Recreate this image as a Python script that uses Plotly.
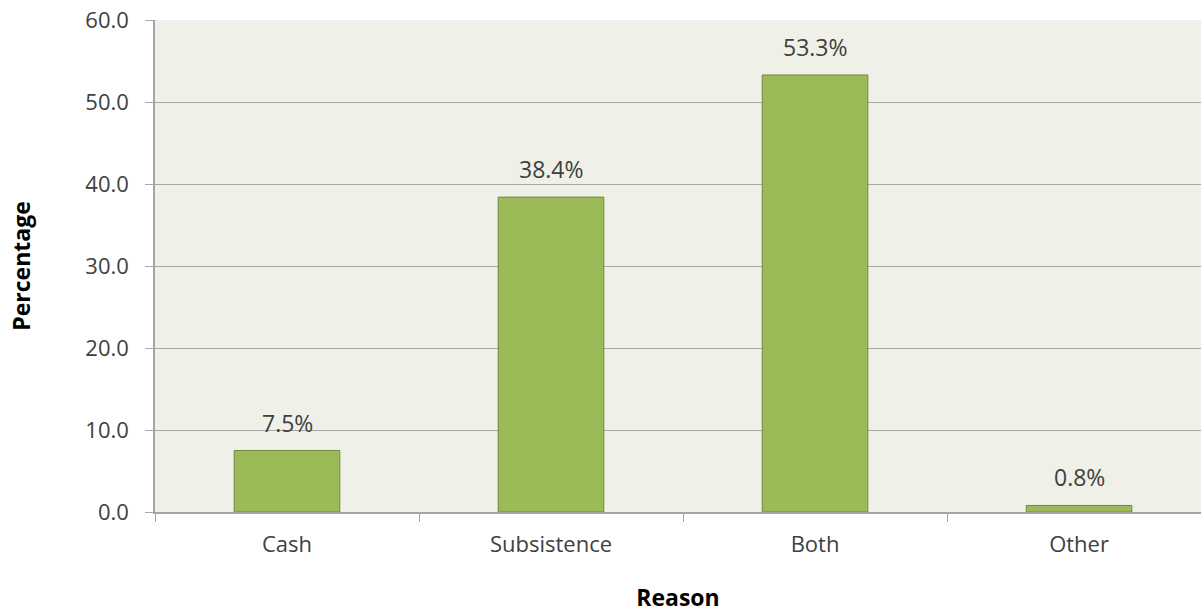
import plotly.graph_objects as go

categories = ["Cash", "Subsistence", "Both", "Other"]
values = [7.5, 38.4, 53.3, 0.8]
labels = ["7.5%", "38.4%", "53.3%", "0.8%"]
y_ticks = [0, 10, 20, 30, 40, 50, 60]
y_ticktext = ["0.0", "10.0", "20.0", "30.0", "40.0", "50.0", "60.0"]

FONT = "Open Sans"
TXT = "#404040"

fig = go.Figure()
fig.add_trace(go.Bar(
    x=categories, y=values, width=0.4,
    marker=dict(color="#9BBB59", line=dict(color="#71893F", width=1)),
    hoverinfo="skip",
))

for c, v, t in zip(categories, values, labels):
    fig.add_annotation(x=c, y=v, text=t, showarrow=False, yanchor="bottom",
                       yshift=10, font=dict(family=FONT, size=23, color=TXT))

fig.update_layout(
    width=1201, height=613,
    margin=dict(l=155, r=0, t=20, b=101),
    paper_bgcolor="white", plot_bgcolor="#EFF1E8",
    showlegend=False, bargap=0.6,
    font=dict(family=FONT, size=23, color=TXT),
)
fig.update_xaxes(
    range=[-0.5, 3.462], showgrid=False,
    showline=True, linecolor="#A6A6A6", linewidth=1.5,
    ticks="outside", tickson="boundaries", ticklen=8, tickcolor="#A6A6A6",
    ticklabelstandoff=12,
    tickfont=dict(family=FONT, size=22, color=TXT),
    title=dict(text="<b>Reason</b>", font=dict(family=FONT, size=23, color="#000000"), standoff=36),
)
fig.update_yaxes(
    range=[0, 60], tickvals=y_ticks, ticktext=y_ticktext,
    showgrid=True, gridcolor="#A6A6A6", gridwidth=1.2,
    showline=True, linecolor="#A6A6A6", linewidth=1.5,
    ticks="outside", ticklen=8, tickcolor="#A6A6A6",
    ticklabelstandoff=12, ticklabeloverflow="allow",
    tickfont=dict(family=FONT, size=22, color=TXT), zeroline=False,
    title=dict(text="<b>Percentage</b>", font=dict(family=FONT, size=23, color="#000000"), standoff=48),
)

fig.write_html("out.html", config={"displayModeBar": False},
               post_script="document.body.style.margin='0';document.body.style.overflow='hidden';")
